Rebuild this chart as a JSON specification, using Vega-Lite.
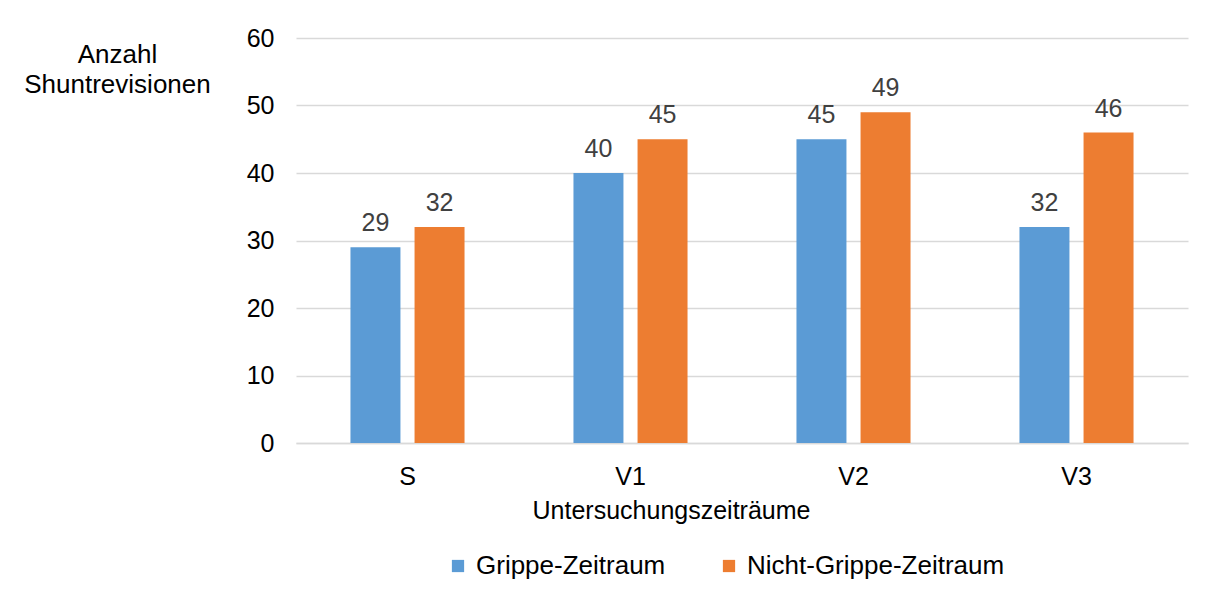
{
  "$schema": "https://vega.github.io/schema/vega-lite/v6.json",
  "autosize": "none",
  "padding": {"left": 296, "top": 38, "right": 20, "bottom": 153},
  "width": 892,
  "height": 405,
  "background": "white",
  "config": {
    "font": "Liberation Sans",
    "view": {"stroke": null}
  },
  "data": {
    "values": [
      {"zeitraum": "S", "serie": "Grippe-Zeitraum", "anzahl": 29},
      {"zeitraum": "S", "serie": "Nicht-Grippe-Zeitraum", "anzahl": 32},
      {"zeitraum": "V1", "serie": "Grippe-Zeitraum", "anzahl": 40},
      {"zeitraum": "V1", "serie": "Nicht-Grippe-Zeitraum", "anzahl": 45},
      {"zeitraum": "V2", "serie": "Grippe-Zeitraum", "anzahl": 45},
      {"zeitraum": "V2", "serie": "Nicht-Grippe-Zeitraum", "anzahl": 49},
      {"zeitraum": "V3", "serie": "Grippe-Zeitraum", "anzahl": 32},
      {"zeitraum": "V3", "serie": "Nicht-Grippe-Zeitraum", "anzahl": 46}
    ]
  },
  "encoding": {
    "x": {
      "field": "zeitraum", "type": "nominal", "sort": ["S", "V1", "V2", "V3"],
      "scale": {"paddingInner": 0, "paddingOuter": 0},
      "axis": {
        "title": "Untersuchungszeiträume",
        "titleFont": "Liberation Sans", "titleFontSize": 25, "titleFontWeight": "normal", "titleColor": "#000000",
        "titleX": 375, "titleY": 55, "titleAlign": "center", "titleBaseline": "top", "titleAnchor": null,
        "labelAngle": 0, "labelFontSize": 25, "labelColor": "#000000", "labelPadding": 21, "labelBaseline": "top",
        "ticks": false, "domain": true, "domainColor": "#d9d9d9", "domainWidth": 1.5, "grid": false
      }
    },
    "xOffset": {
      "field": "serie", "type": "nominal",
      "scale": {"paddingInner": 0.22, "paddingOuter": 0.85}
    },
    "y": {
      "field": "anzahl", "type": "quantitative",
      "scale": {"domain": [0, 60]},
      "axis": {
        "title": ["Anzahl", "Shuntrevisionen"],
        "titleFont": "Liberation Sans", "titleFontSize": 26, "titleFontWeight": "normal", "titleColor": "#000000",
        "titleAngle": 0, "titleX": -179, "titleY": 3, "titleAlign": "center", "titleBaseline": "top", "titleLineHeight": 30,
        "values": [0, 10, 20, 30, 40, 50, 60],
        "labelFontSize": 25, "labelColor": "#000000", "labelPadding": 22,
        "ticks": false, "domain": false,
        "grid": true, "gridColor": "#d9d9d9", "gridWidth": 1.5
      }
    }
  },
  "layer": [
    {
      "mark": {"type": "bar"},
      "encoding": {
        "color": {
          "field": "serie", "type": "nominal",
          "scale": {"domain": ["Grippe-Zeitraum", "Nicht-Grippe-Zeitraum"], "range": ["#5b9bd5", "#ed7d31"]},
          "legend": {
            "title": null, "orient": "none", "direction": "horizontal",
            "legendX": 149, "legendY": 515,
            "symbolType": "square", "symbolSize": 150, "symbolStrokeWidth": 0,
            "labelFontSize": 26, "labelColor": "#000000", "labelOffset": 5,
            "columnPadding": 50, "labelLimit": 400
          }
        }
      }
    },
    {
      "mark": {"type": "text", "baseline": "alphabetic", "dy": -16, "fontSize": 25, "color": "#404040"},
      "encoding": {
        "text": {"field": "anzahl", "type": "quantitative"}
      }
    }
  ]
}
